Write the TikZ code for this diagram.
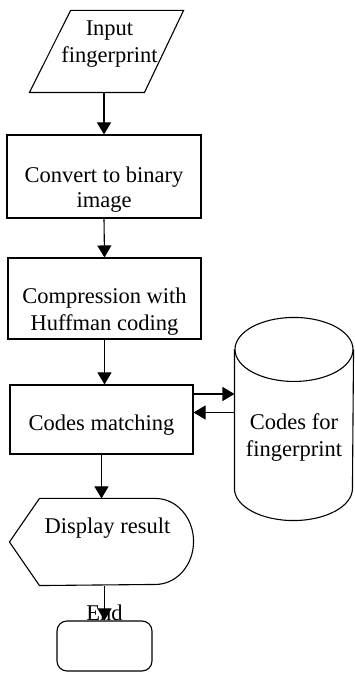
\documentclass[tikz,border=0pt]{standalone}
\usepackage{fontspec}
\setmainfont{Liberation Serif}
\usetikzlibrary{arrows.meta}

\begin{document}
\begin{tikzpicture}[x=1pt,y=1pt,line width=1.1pt,
    font=\fontsize{22.5pt}{27.5pt}\selectfont,
    flow/.style={-{Triangle[length=12pt,width=14pt]}},
    frame/.style={inner sep=0pt},
    box/.style={draw,frame}]
  \useasboundingbox (0,0) rectangle (354,673);

  \node[frame,minimum width=153pt,minimum height=81pt,
    label={[align=center,xshift=3pt,yshift=7.5pt]center:Input\\fingerprint}] (input) at (106.5,621.5) {};
  \draw (input.south west) -- ++(115,0) -- (input.north east) -- ++(-113,0) -- cycle;

  \node[box,minimum width=194pt,minimum height=83pt,
    label={[align=center,yshift=-13pt]center:Convert to binary\\[-3pt]image}] (binary) at (104,496.5) {};
  \node[box,minimum width=193pt,minimum height=81pt,
    label={[align=center,yshift=-13pt]center:Compression with\\Huffman coding}] (huff) at (104.5,374.5) {};
  \node[box,minimum width=183pt,minimum height=69pt,
    label={[yshift=-5.5pt]center:Codes matching}] (match) at (101.5,253.5) {};

  % stored codes
  \node[frame,minimum width=118pt,minimum height=202pt,
    label={[align=center,yshift=-18.5pt]center:Codes for\\fingerprint}] (codes) at (294,254) {};
  \draw ([yshift=-32pt]codes.north) ellipse[x radius=59,y radius=32];
  \draw ([yshift=-32pt]codes.north west) -- ([yshift=32pt]codes.south west)
    arc[start angle=180,end angle=360,x radius=59,y radius=32] -- ([yshift=-32pt]codes.north east);

  % display
  \node[frame,minimum width=183pt,minimum height=86pt,
    label={[xshift=6pt,yshift=14pt]center:Display result}] (disp) at (101.5,131) {};
  \draw (disp.west) -- ([xshift=30pt]disp.north west) -- ([xshift=-38pt]disp.north east)
    arc[start angle=90,end angle=-90,x radius=38,y radius=43] -- ([xshift=30pt]disp.south west) -- cycle;

  \node[draw,rounded corners=10pt,minimum width=95pt,minimum height=50pt,
    label={[anchor=base,inner sep=0pt]north:End}] (end) at (104.5,27) {};

  \draw[flow] (binary.north |- input.south) -- (binary.north);
  \draw[flow] (binary.south) -- (huff.north);
  \draw[flow] (huff.south) -- (huff.south |- match.north);
  \draw[flow] (match.south) -- (disp.north);
  \draw[flow] (end.north |- disp.south) -- (end.north);
  \draw[flow] ([yshift=25.5pt]match.east) -- ([yshift=25.5pt]match.east -| codes.west);
  \draw[flow] ([yshift=7pt]match.east -| codes.west) -- ([yshift=7pt]match.east);
\end{tikzpicture}
\end{document}
